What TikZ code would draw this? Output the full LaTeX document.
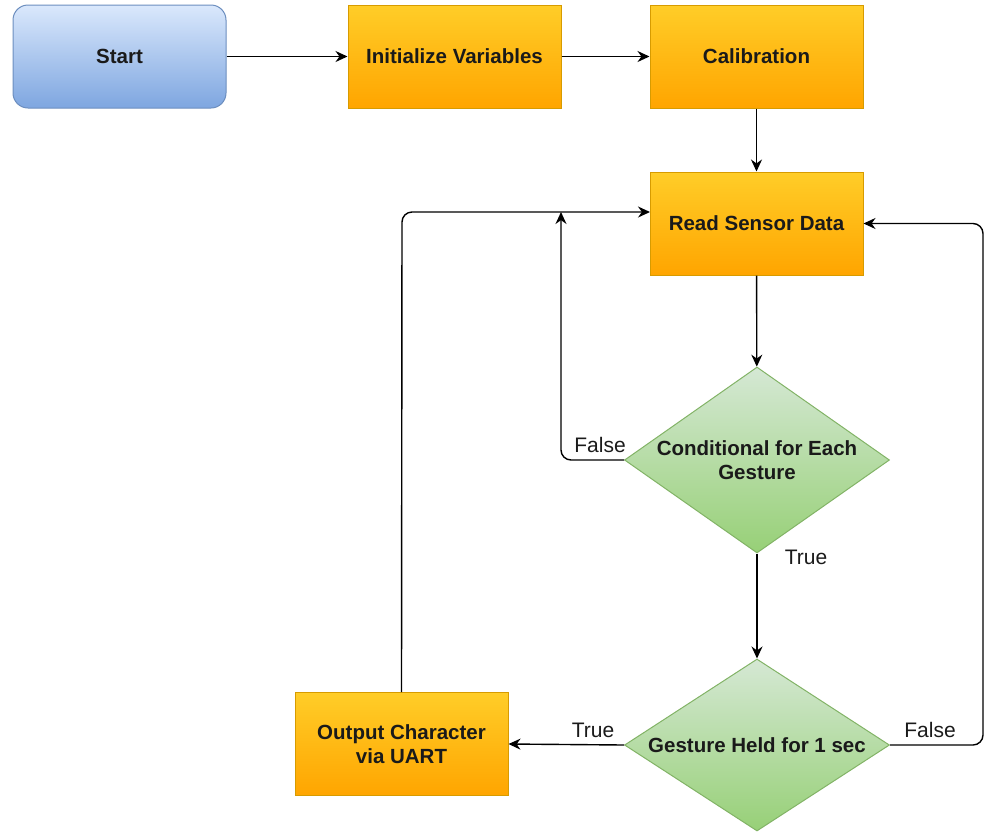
\documentclass[tikz,border=0pt]{standalone}
\usepackage{fontspec}
\setmainfont{Liberation Sans}
\usetikzlibrary{arrows.meta,shapes.geometric}
\definecolor{bluetop}{HTML}{DAE8FC}
\definecolor{bluebot}{HTML}{7EA6E0}
\definecolor{blueline}{HTML}{6C8EBF}
\definecolor{ortop}{HTML}{FFCD28}
\definecolor{orbot}{HTML}{FFA500}
\definecolor{orline}{HTML}{D79B00}
\definecolor{grtop}{HTML}{D5E8D4}
\definecolor{grbot}{HTML}{97D077}
\definecolor{grline}{HTML}{82B366}
\definecolor{txt}{HTML}{1A1A1A}
\begin{document}
\begin{tikzpicture}[x=1pt,y=-1pt,
  every node/.style={font=\fontsize{21}{24}\selectfont, text=txt},
  startbox/.style={draw=blueline, line width=1pt, top color=bluetop, bottom color=bluebot, rounded corners=15pt, minimum width=213pt, minimum height=103pt, inner sep=0pt, font=\bfseries\fontsize{20.5}{24}\selectfont},
  procbox/.style={draw=orline, line width=1pt, top color=ortop, bottom color=orbot, minimum width=213pt, minimum height=103pt, inner sep=0pt, align=center, font=\bfseries\fontsize{20.5}{24}\selectfont},
  decbox/.style={draw=grline, line width=1pt, top color=grtop, bottom color=grbot, shape=diamond, minimum width=265pt, minimum height=186pt, inner sep=0pt},
  dectext/.style={align=center, font=\bfseries\fontsize{20.5}{24}\selectfont},
  lbl/.style={font=\fontsize{21}{24}\selectfont},
  conn/.style={line width=1.4pt, draw=black, -{Stealth[length=12pt,width=11pt]}}
]
\useasboundingbox (0,0) rectangle (985,831);
\node[startbox] (start) at (119.5,56.5) {Start};
\node[procbox] (init) at (454.5,56.5) {Initialize Variables};
\node[procbox] (calib) at (756.5,56.5) {Calibration};
\node[procbox] (read) at (756.5,223.5) {Read Sensor Data};
\node[decbox] (d1) at (757,460) {};
\node[dectext] (d1t) at (757,460) {Conditional for Each\\Gesture};
\node[decbox, minimum height=172pt] (d2) at (757,745) {};
\node[dectext] (d2t) at (757,745) {Gesture Held for 1 sec};
\node[procbox] (out) at (401.5,744) {Output Character\\via UART};
\coordinate (j1) at (561,212);
\coordinate (rin) at (650,212);
\draw[conn] (start) -- (init);
\draw[conn] (init) -- (calib);
\draw[conn] (calib) -- (read);
\draw[conn] (read) -- (d1);
\draw[conn, rounded corners=10pt] (d1.west) -- (561,460) -- (j1);
\draw[conn] (d1.south) -- (d2.north);
\draw[conn] (d2.west) -- (out.east);
\draw[conn, rounded corners=10pt] (d2.east) -- (983,745) -- (983,223.5) -- (read.east);
\draw[conn, rounded corners=10pt] (out.north) -- (402,212) -- (rin);
\node[lbl] (f1) at (600,445) {False};
\node[lbl] (t1) at (806,557) {True};
\node[lbl] (t2) at (593,730) {True};
\node[lbl] (f2) at (930,730) {False};
\end{tikzpicture}
\end{document}
